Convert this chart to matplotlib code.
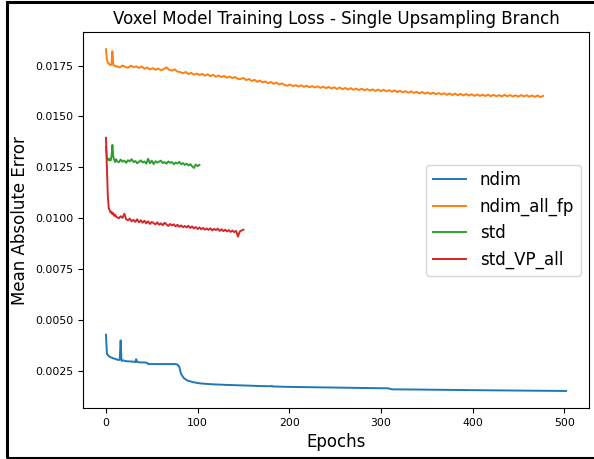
import numpy as np
import matplotlib
matplotlib.use('Agg')
import matplotlib.pyplot as plt
from matplotlib.patches import Rectangle

### Training loss (MAE) per epoch for the four voxel model runs

## ndim: logged on a sparse set of epochs (curve is smooth apart from early spikes)
ndim_epochs = [0, 1, 2, 4, 6, 8, 10, 12, 14, 15, 16, 17, 19, 22, 26, 30, 32, 33, 34, 38,
               42, 45, 46, 50, 60, 70, 76, 78, 80, 82, 85, 89, 95, 103, 115, 130, 150, 170,
               180, 181, 182, 200, 230, 260, 290, 308, 312, 340, 360, 400, 450, 502]
ndim_loss = [0.00428, 0.00335, 0.00328, 0.00320, 0.00316, 0.00312, 0.00310, 0.00306, 0.00304,
             0.00306, 0.00400, 0.00300, 0.00302, 0.00298, 0.00297, 0.00296, 0.00294, 0.00308,
             0.00294, 0.00292, 0.00292, 0.00290, 0.00284, 0.00284, 0.00284, 0.00284, 0.00284,
             0.00282, 0.00270, 0.00235, 0.00215, 0.00203, 0.00195, 0.00189, 0.00185, 0.00182,
             0.00179, 0.00176, 0.00175, 0.00177, 0.00174, 0.00172, 0.00170, 0.00168, 0.00166,
             0.00165, 0.00160, 0.00159, 0.00158, 0.00156, 0.00154, 0.00152]

## ndim_all_fp: epochs 0-11 every epoch, then every 3rd epoch
fp_head = [0.01830, 0.01780, 0.01765, 0.01760, 0.01755, 0.01752, 0.01755, 0.01820,
           0.01752, 0.01750, 0.01748, 0.01745]
fp_tail = [0.01746, 0.01740, 0.01750, 0.01743, 0.01739, 0.01749, 0.01742, 0.01746, 0.01738,
           0.01745, 0.01734, 0.01740, 0.01731, 0.01737, 0.01729, 0.01735, 0.01727, 0.01733,
           0.01741, 0.01729, 0.01725, 0.01731, 0.01720, 0.01718, 0.01712, 0.01718, 0.01708,
           0.01714, 0.01705, 0.01711, 0.01703, 0.01709, 0.01700, 0.01707, 0.01698, 0.01704,
           0.01695, 0.01701, 0.01693, 0.01699, 0.01690, 0.01696, 0.01688, 0.01694, 0.01684,
           0.01684, 0.01689, 0.01678, 0.01684, 0.01674, 0.01680, 0.01670, 0.01676, 0.01667,
           0.01672, 0.01663, 0.01669, 0.01660, 0.01666, 0.01657, 0.01662, 0.01654, 0.01651,
           0.01657, 0.01648, 0.01654, 0.01647, 0.01653, 0.01645, 0.01651, 0.01643, 0.01649,
           0.01642, 0.01648, 0.01640, 0.01646, 0.01639, 0.01645, 0.01637, 0.01643, 0.01635,
           0.01642, 0.01634, 0.01640, 0.01632, 0.01639, 0.01631, 0.01637, 0.01629, 0.01636,
           0.01628, 0.01634, 0.01627, 0.01633, 0.01625, 0.01632, 0.01624, 0.01631, 0.01623,
           0.01629, 0.01621, 0.01628, 0.01619, 0.01626, 0.01618, 0.01624, 0.01616, 0.01623,
           0.01615, 0.01621, 0.01613, 0.01620, 0.01612, 0.01618, 0.01610, 0.01617, 0.01609,
           0.01615, 0.01608, 0.01614, 0.01606, 0.01613, 0.01605, 0.01612, 0.01604, 0.01611,
           0.01603, 0.01610, 0.01602, 0.01609, 0.01601, 0.01608, 0.01601, 0.01607, 0.01600,
           0.01607, 0.01599, 0.01606, 0.01599, 0.01605, 0.01598, 0.01606, 0.01599, 0.01605,
           0.01598, 0.01604, 0.01597, 0.01605, 0.01598, 0.01604, 0.01597, 0.01603, 0.01596,
           0.01603, 0.01595, 0.01601]

## std: epochs 0-11 every epoch, then every 2nd epoch
std_head = [0.01350, 0.01300, 0.01290, 0.01285, 0.01292, 0.01283, 0.01305, 0.01360,
            0.01300, 0.01288, 0.01276, 0.01290]
std_tail = [0.01280, 0.01275, 0.01288, 0.01278, 0.01283, 0.01272, 0.01285, 0.01279, 0.01290,
            0.01276, 0.01281, 0.01270, 0.01277, 0.01284, 0.01274, 0.01279, 0.01268, 0.01292,
            0.01270, 0.01283, 0.01266, 0.01280, 0.01273, 0.01278, 0.01283, 0.01271, 0.01276,
            0.01268, 0.01279, 0.01272, 0.01276, 0.01265, 0.01274, 0.01269, 0.01277, 0.01265,
            0.01271, 0.01262, 0.01268, 0.01259, 0.01266, 0.01255, 0.01247, 0.01264, 0.01256,
            0.01262]

## std_VP_all: epochs 0-11 every epoch, then every 2nd epoch
vp_head = [0.01395, 0.01250, 0.01110, 0.01050, 0.01040, 0.01028, 0.01032, 0.01020,
           0.01025, 0.01012, 0.01018, 0.01008]
vp_tail = [0.01005, 0.01000, 0.01010, 0.01002, 0.01022, 0.00995, 0.00990, 0.00998, 0.00985,
           0.00992, 0.00982, 0.00995, 0.00980, 0.00990, 0.00978, 0.00988, 0.00975, 0.00985,
           0.00972, 0.00982, 0.00976, 0.00970, 0.00980, 0.00968, 0.00975, 0.00966, 0.00978,
           0.00970, 0.00962, 0.00972, 0.00965, 0.00970, 0.00960, 0.00968, 0.00958, 0.00965,
           0.00956, 0.00962, 0.00955, 0.00963, 0.00952, 0.00960, 0.00950, 0.00957, 0.00947,
           0.00955, 0.00946, 0.00953, 0.00944, 0.00950, 0.00943, 0.00951, 0.00940, 0.00948,
           0.00942, 0.00949, 0.00938, 0.00946, 0.00937, 0.00944, 0.00935, 0.00942, 0.00933,
           0.00940, 0.00932, 0.00938, 0.00910, 0.00935, 0.00940, 0.00944]


def epochs_for(head, tail, step):
    # head is logged every epoch, tail every `step` epochs after it
    n = len(head)
    return list(range(n)) + [n + step * i for i in range(len(tail))]


fp_epochs = epochs_for(fp_head, fp_tail, 3)
std_epochs = epochs_for(std_head, std_tail, 2)
vp_epochs = epochs_for(vp_head, vp_tail, 2)

### Plot
fig = plt.figure(figsize=(5.94, 4.59), dpi=100)
ax = fig.add_axes([0.1397, 0.111, 0.8519, 0.819])

lw = 1.4
ax.plot(ndim_epochs, ndim_loss, color='#1f77b4', lw=lw, label='ndim')
ax.plot(fp_epochs, fp_head + fp_tail, color='#ff7f0e', lw=lw, label='ndim_all_fp')
ax.plot(std_epochs, std_head + std_tail, color='#2ca02c', lw=lw, label='std')
ax.plot(vp_epochs, vp_head + vp_tail, color='#d62728', lw=lw, label='std_VP_all')

ax.set_title('Voxel Model Training Loss - Single Upsampling Branch', fontsize=12)
ax.set_xlabel('Epochs', fontsize=12)
ax.set_ylabel('Mean Absolute Error', fontsize=12)
ax.tick_params(labelsize=7.8)
ax.set_yticks([0.0025, 0.0050, 0.0075, 0.0100, 0.0125, 0.0150, 0.0175])
ax.yaxis.set_major_formatter(matplotlib.ticker.FormatStrFormatter('%.4f'))
ax.legend(loc='center right', fontsize=12)

# black frame round the figure
fig.add_artist(Rectangle((6.5 / 594, 1.5 / 459), 1.0, 456 / 459, transform=fig.transFigure,
                         fill=False, ec='black', lw=2.2, clip_on=False))

fig.savefig('out.png', dpi=100)
